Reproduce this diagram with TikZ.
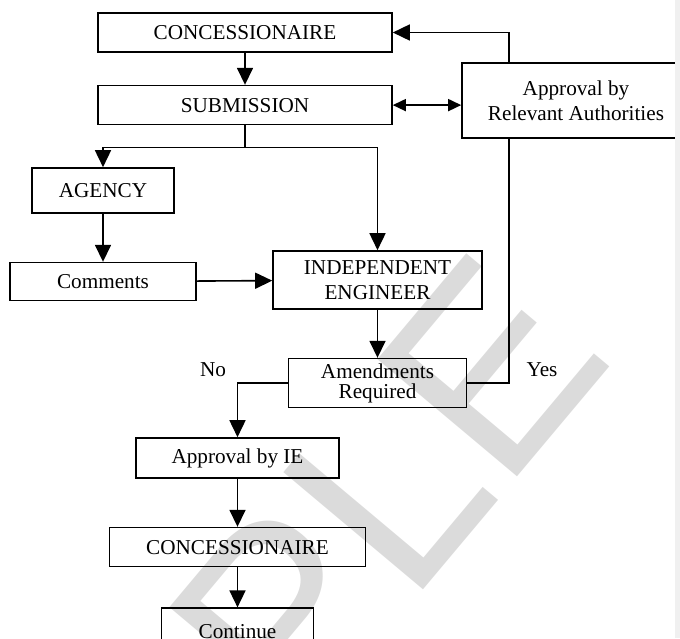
\documentclass[tikz,border=0pt]{standalone}
\usepackage{fontspec}
\setmainfont{Liberation Serif}
\newfontfamily\markfont{Liberation Sans}
\usetikzlibrary{positioning}
\usetikzlibrary{shapes,arrows.meta}

\begin{document}
\begin{tikzpicture}[%
    x=0.5pt,
    y=-0.5pt,
    line width=0.8pt,
    >={Triangle[length=8.5pt,width=8pt]},
    font=\fontsize{10.6}{12.4}\selectfont,
    block/.style={%
      rectangle,
      draw,
      inner sep=0pt,
      align=center
    },
    small/.style={>={Triangle[length=6.5pt,width=6pt]}}
  ]
  \path[use as bounding box, clip] (0,0) rectangle (680,638);
  % Watermark:
    \node[rotate=50, anchor=base west, inner sep=0pt, text=black!14,
          font=\markfont\fontsize{132.5}{150}\selectfont] (MARK) at (-74,1182) {SAMPLE};
  % Nodes:
    \node[block, minimum width=147pt, minimum height=19.5pt] (CON) at (245,32.5) {CONCESSIONAIRE};
    \node[block, minimum width=147pt, minimum height=19.5pt] (SUB) [below=16pt of CON] {SUBMISSION};
    \node[block, minimum width=114pt, minimum height=37.5pt] (AUTH) at (576,100.5) {Approval by\\Relevant Authorities};
    \node[block, minimum width=71pt, minimum height=22.5pt] (AG) at (103,190.5) {AGENCY};
    \node[block, minimum width=93pt, minimum height=19pt] (COM) [below=24pt of AG] {Comments};
    \node[block, minimum width=104.5pt, minimum height=29pt] (IE) at (377.5,280) {INDEPENDENT\\ENGINEER};
    \node[block, minimum width=89pt, minimum height=24.5pt] (AM) [below=24pt of IE] {Amendments\\[-2.4pt]Required};
    \node[block, minimum width=101.5pt, minimum height=20pt] (AIE) at (237.5,458) {Approval by IE};
    \node[block, minimum width=128pt, minimum height=19.5pt] (CON2) [below=24pt of AIE] {CONCESSIONAIRE};
    \node[block, minimum width=76pt, minimum height=23pt] (CONT) [below=20pt of CON2] {Continue};
    \node (NO) at (213,370) {No};
    \node (YES) at (542,370) {Yes};
    \coordinate (TOP) at (509,33);
  % Paths:
    \draw[->] (CON) -- (SUB);
    \draw[<->, small] (SUB.east) -- (AUTH.west |- SUB.east);
    \draw[->] (AUTH.north -| TOP) |- (CON);
    \draw (SUB.south) -- ++(0,22) coordinate (SPLIT);
    \draw[->] (SPLIT) -| (AG);
    \draw[->] (SPLIT) -| (IE);
    \draw[->] (AG) -- (COM);
    \draw[->] (COM) -- (IE);
    \draw[->] (IE) -- (AM);
    \draw[->] (AM) -| (AIE);
    \draw (AM) -| (AUTH.south -| TOP);
    \draw[->] (AIE) -- (CON2);
    \draw[->] (CON2) -- (CONT);
  % Margin strip:
    \fill[black!6] (675,0) rectangle (680,638);
\end{tikzpicture}
\end{document}
